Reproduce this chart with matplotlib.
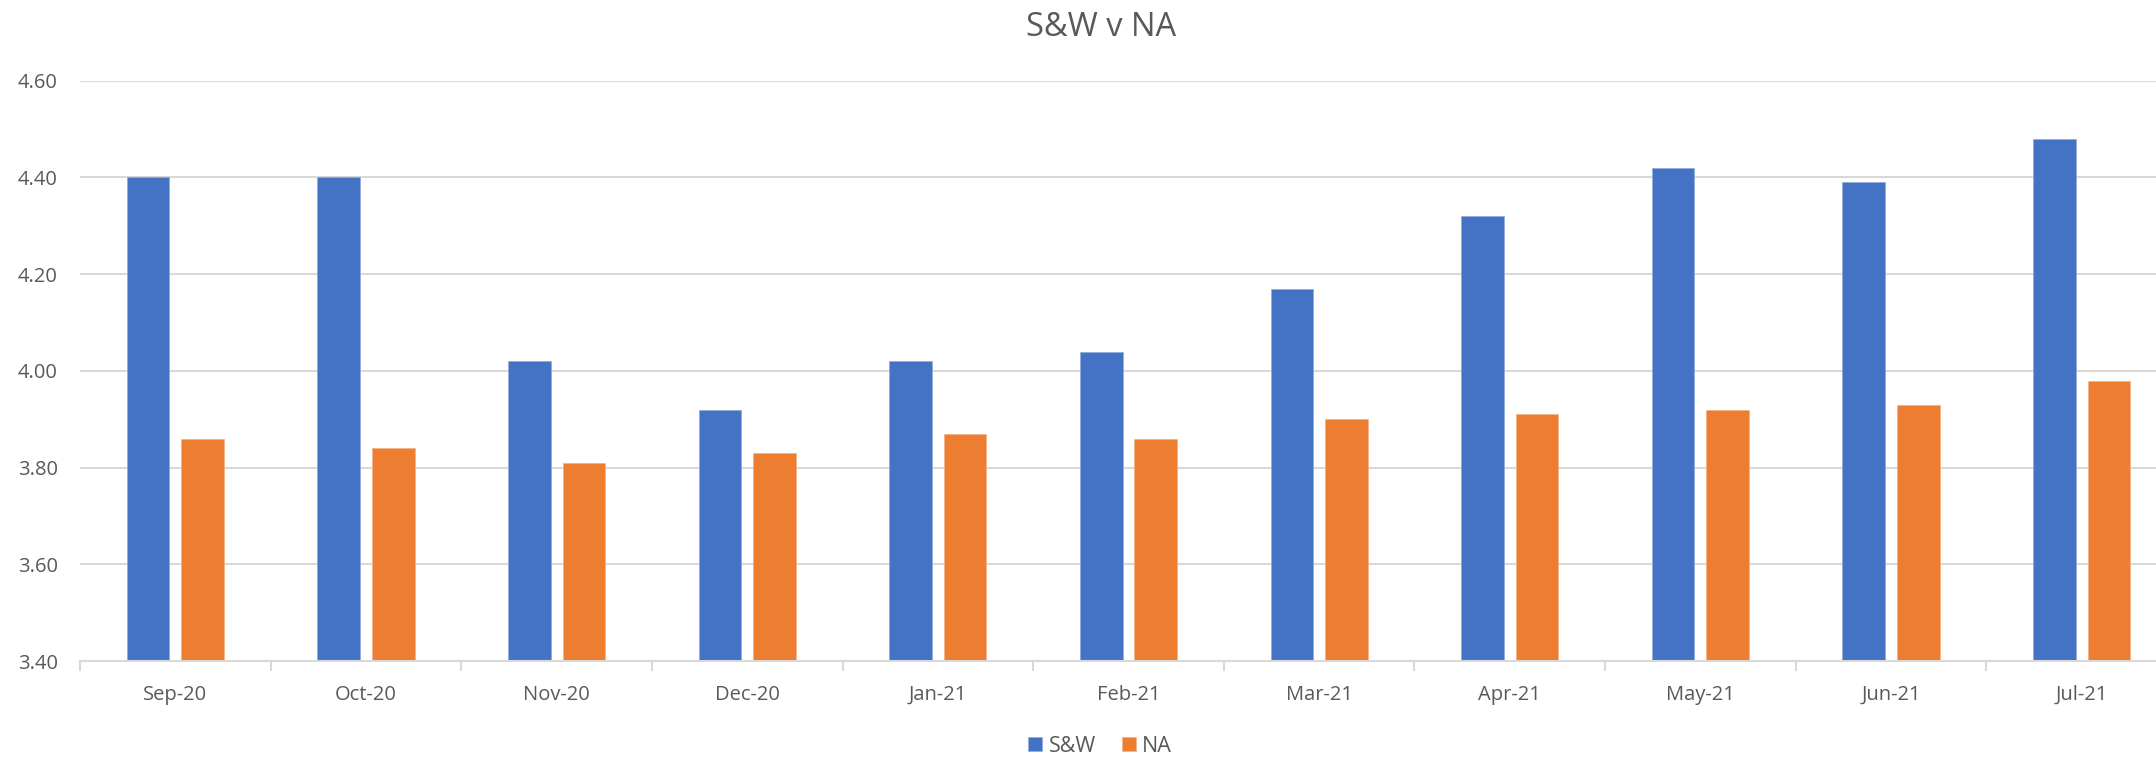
import matplotlib
matplotlib.use("Agg")
import matplotlib.pyplot as plt
import numpy as np

categories = ["Sep-20", "Oct-20", "Nov-20", "Dec-20", "Jan-21", "Feb-21",
              "Mar-21", "Apr-21", "May-21", "Jun-21", "Jul-21"]
sw_values = [4.40, 4.40, 4.02, 3.92, 4.02, 4.04, 4.17, 4.32, 4.42, 4.39, 4.48]
na_values = [3.86, 3.84, 3.81, 3.83, 3.87, 3.86, 3.90, 3.91, 3.92, 3.93, 3.98]
y_ticks = [3.40, 3.60, 3.80, 4.00, 4.20, 4.40, 4.60]

plt.rcParams['font.family'] = ['Open Sans', 'DejaVu Sans']
text_color = "#595959"

W, H = 2156, 757
fig = plt.figure(figsize=(W / 100, H / 100), dpi=100)
left, right, bottom, top = 80, 2177, 661, 80.7
ax = fig.add_axes([left / W, 1 - bottom / H, (right - left) / W, (bottom - top) / H])

x = np.arange(len(categories))
bw = 0.224
off = 0.143
ax.bar(x - off, sw_values, bw, color="#4472C4", label="S&W", zorder=3,
       edgecolor="#8EA9DB", linewidth=0.5)
ax.bar(x + off, na_values, bw, color="#ED7D31", label="NA", zorder=3,
       edgecolor="#F4B183", linewidth=0.5)

ax.set_xlim(-0.5, len(categories) - 0.5)
ax.set_ylim(3.40, 4.60)
ax.set_yticks(y_ticks)
ax.set_yticklabels([f"{v:.2f}" for v in y_ticks])
ax.yaxis.grid(True, color="#D9D9D9", linewidth=1.5, zorder=0)
ax.set_axisbelow(True)

ax.set_xticks(x)
ax.set_xticklabels(categories)
ax.set_xticks(np.arange(len(categories) + 1) - 0.5, minor=True)
ax.tick_params(axis='x', which='major', length=0, pad=17, labelsize=14.5, labelcolor=text_color)
ax.tick_params(axis='x', which='minor', length=7, width=1.5, color="#D9D9D9")
ax.tick_params(axis='y', length=0, pad=16, labelsize=14.5, labelcolor=text_color)

for s in ["top", "right", "left"]:
    ax.spines[s].set_visible(False)
ax.spines["bottom"].set_color("#D9D9D9")
ax.spines["bottom"].set_linewidth(1.5)
ax.spines["bottom"].set_zorder(4)

fig.text(1101 / W, 1 - 28 / H, "S&W v NA", ha="center", va="center",
         fontsize=23.5, color=text_color)

handles, labels = ax.get_legend_handles_labels()
fig.legend(handles, labels, loc="center", bbox_to_anchor=(1100 / W, 1 - 746 / H),
           ncol=2, frameon=False, fontsize=15.5, labelcolor=text_color,
           handlelength=0.65, handleheight=0.65, handletextpad=0.3, columnspacing=1.2)

fig.savefig("out.png", dpi=100)
